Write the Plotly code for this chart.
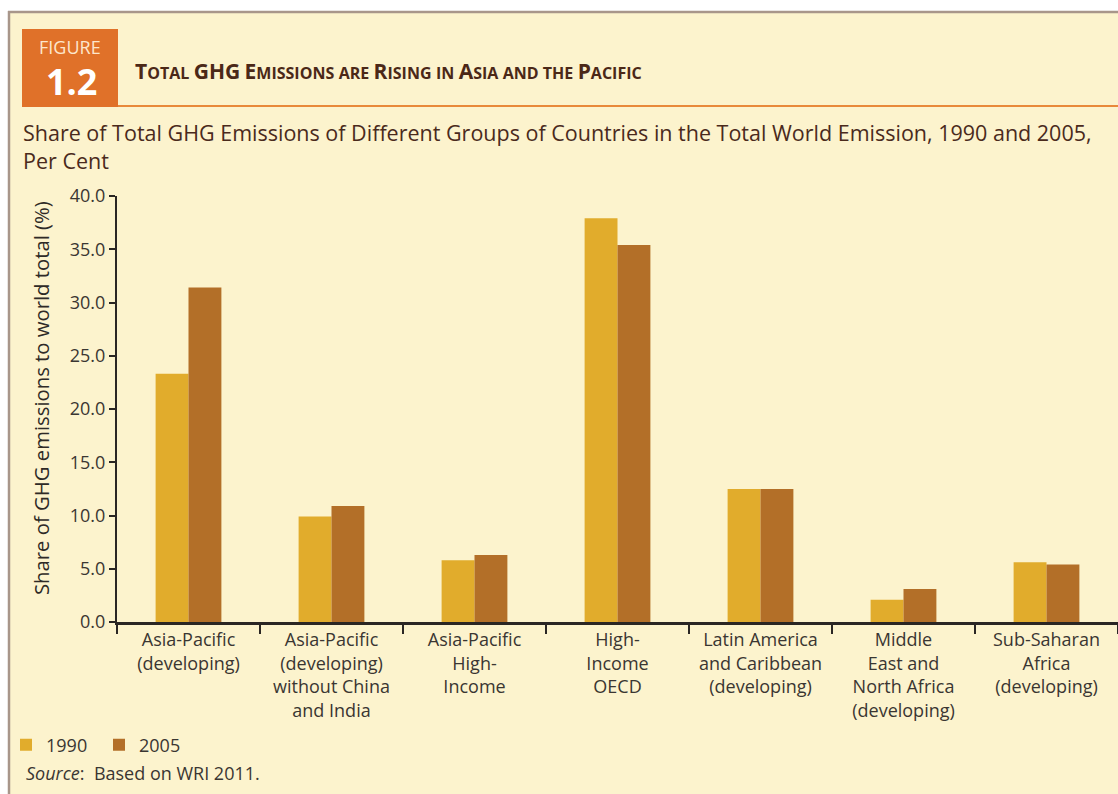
import plotly.graph_objects as go

categories = [
    "Asia-Pacific<br>(developing)",
    "Asia-Pacific<br>(developing)<br>without China<br>and India",
    "Asia-Pacific<br>High-<br>Income",
    "High-<br>Income<br>OECD",
    "Latin America<br>and Caribbean<br>(developing)",
    "Middle<br>East and<br>North Africa<br>(developing)",
    "Sub-Saharan<br>Africa<br>(developing)",
]
values_1990 = [23.3, 9.9, 5.8, 37.9, 12.5, 2.1, 5.6]
values_2005 = [31.4, 10.9, 6.3, 35.4, 12.5, 3.1, 5.4]
y_ticks = [0, 5, 10, 15, 20, 25, 30, 35, 40]

W, H = 1118, 794
L, R, T, B = 117, 1118, 196, 622  # plot area in px

def px(x):
    return (x - L) / (R - L)

def py(y):
    return (B - y) / (B - T)

BG = "#FCF3CD"
C1990 = "#E1AC2C"
C2005 = "#B36F28"
BROWN = "#4A2A1C"
TXT = "#3A3632"
FONT = "Open Sans"

fig = go.Figure()
fig.add_trace(go.Bar(name="1990", x=categories, y=values_1990, marker=dict(color=C1990, line=dict(width=0))))
fig.add_trace(go.Bar(name="2005", x=categories, y=values_2005, marker=dict(color=C2005, line=dict(width=0))))

shapes = [
    dict(type="rect", xref="paper", yref="paper", x0=px(-5), x1=px(W + 5), y0=py(11), y1=py(-5),
         fillcolor="white", line=dict(width=0), layer="below"),
    dict(type="rect", xref="paper", yref="paper", x0=px(-5), x1=px(8), y0=py(H + 5), y1=py(-5),
         fillcolor="white", line=dict(width=0), layer="below"),
    dict(type="line", xref="paper", yref="paper", x0=px(8), x1=px(W + 5), y0=py(12), y1=py(12),
         line=dict(color="#A8968A", width=2.5)),
    dict(type="line", xref="paper", yref="paper", x0=px(9), x1=px(9), y0=py(11), y1=py(H + 5),
         line=dict(color="#A8968A", width=2.5)),
    dict(type="rect", xref="paper", yref="paper", x0=px(22), x1=px(118), y0=py(107), y1=py(29),
         fillcolor="#E07129", line=dict(width=0)),
    dict(type="line", xref="paper", yref="paper", x0=px(118), x1=px(W + 5), y0=py(106), y1=py(106),
         line=dict(color="#E8893A", width=2)),
]

BIG, SMALL = 21, 16

def sc(word):
    return f"<span style='font-size:{BIG}px'>{word[0]}</span><span style='font-size:{SMALL}px'>{word[1:]}</span>"

def sm(word):
    return f"<span style='font-size:{SMALL}px'>{word}</span>"

header = "<b>" + " ".join([
    sc("TOTAL"), f"<span style='font-size:{BIG}px'>GHG</span>", sc("EMISSIONS"),
    sm("ARE"), sc("RISING"), sm("IN"), sc("ASIA"), sm("AND THE"), sc("PACIFIC")]) + "</b>"

annotations = [
    dict(text="FIGURE", x=px(70), y=py(47), xref="paper", yref="paper", showarrow=False,
         font=dict(family=FONT, size=18, color="#FDE6CC"), xanchor="center", yanchor="middle"),
    dict(text="<b>1.2</b>", x=px(71), y=py(81), xref="paper", yref="paper", showarrow=False,
         font=dict(family=FONT, size=36, color="white"), xanchor="center", yanchor="middle"),
    dict(text=header, x=px(133), y=py(71), xref="paper", yref="paper", showarrow=False,
         font=dict(family=FONT, size=17, color="#4B2817"), xanchor="left", yanchor="middle"),
    dict(text="Share of Total GHG Emissions of Different Groups of Countries in the Total World Emission, 1990 and 2005,<br>Per Cent",
         x=px(21), y=py(146), xref="paper", yref="paper", showarrow=False, align="left",
         font=dict(family=FONT, size=21.5, color=BROWN), xanchor="left", yanchor="middle"),
    dict(text="Share of GHG emissions to world total (%)", x=px(41), y=py(398), xref="paper", yref="paper",
         showarrow=False, textangle=-90, font=dict(family=FONT, size=20.3, color="#2E2A26"),
         xanchor="center", yanchor="middle"),
    dict(text="<i>Source</i>:  Based on WRI 2011.", x=px(24), y=py(773), xref="paper", yref="paper",
         showarrow=False, font=dict(family=FONT, size=18, color=TXT), xanchor="left", yanchor="middle"),
]

fig.update_layout(
    width=W, height=H,
    margin=dict(l=L, r=W - R, t=T, b=H - B, pad=0),
    paper_bgcolor=BG, plot_bgcolor=BG,
    barmode="group", bargap=0.54, bargroupgap=0,
    font=dict(family=FONT, color=TXT),
    showlegend=True,
    legend=dict(orientation="h", xref="container", yref="container", x=6 / W, y=(H - 745) / H,
                xanchor="left", yanchor="middle", font=dict(family=FONT, size=18, color=TXT),
                bgcolor="rgba(0,0,0,0)", entrywidth=48, entrywidthmode="pixels", itemclick=False),
    xaxis=dict(
        type="category", showgrid=False, showline=True, linecolor="#2A2623", linewidth=2.5,
        ticks="outside", tickson="boundaries", ticklen=9, tickwidth=2, tickcolor="#2A2623",
        tickfont=dict(family=FONT, size=18, color=TXT), fixedrange=True,
    ),
    yaxis=dict(
        range=[0, 40], tickvals=y_ticks, ticktext=[f"{v:.1f}" for v in y_ticks],
        showgrid=False, zeroline=False, showline=True, linecolor="#2A2623", linewidth=2,
        ticks="outside", ticklen=6, tickwidth=2, tickcolor="#2A2623",
        tickfont=dict(family=FONT, size=18, color=TXT),
        fixedrange=True,
    ),
    shapes=shapes,
    annotations=annotations,
)

fig.write_html("out.html", config={"displayModeBar": False},
               post_script="document.body.style.margin='0';document.body.style.overflow='hidden';")
